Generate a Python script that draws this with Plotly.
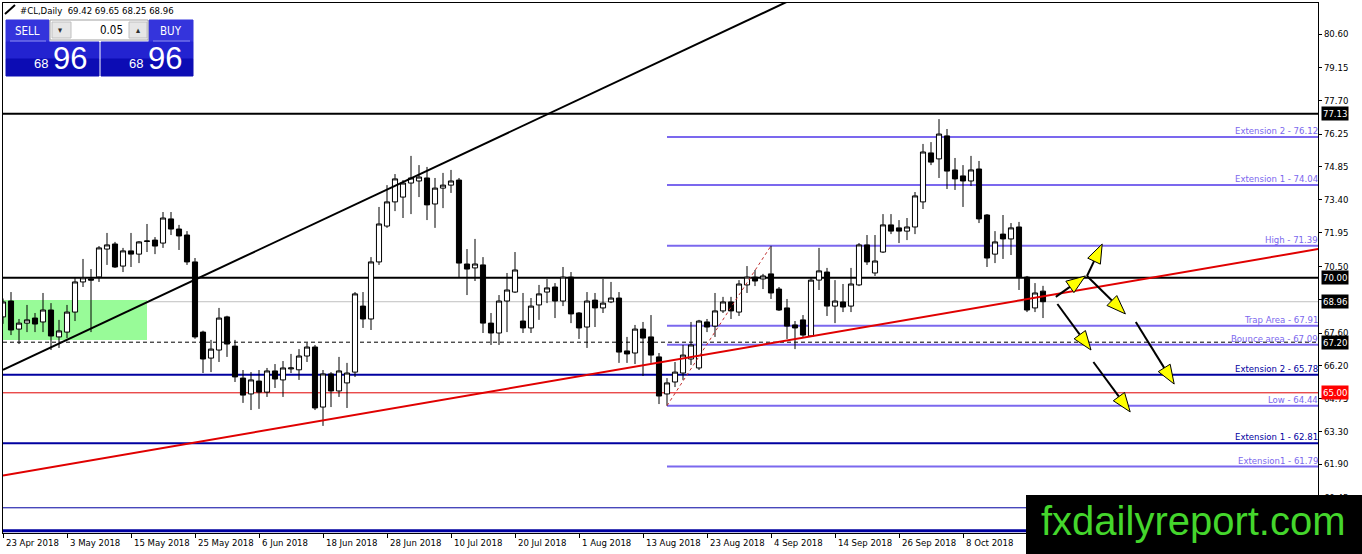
import math
import pandas as pd
import plotly.graph_objects as go

# barras diárias do #CL, de 23 Apr 2018 até 22 Oct 2018
dates = pd.bdate_range("2018-04-23", periods=131)

opens = [68.30, 68.99, 67.77, 68.03, 68.25, 68.08, 68.60, 67.43, 67.64, 68.51,
         69.82, 69.95, 70.04, 71.25, 71.47, 70.51, 71.17, 71.03, 71.58, 71.64,
         71.51, 72.56, 72.12, 71.86, 70.69, 67.64, 66.51, 66.86, 68.30, 67.03,
         65.64, 64.95, 65.51, 65.03, 65.95, 65.56, 66.04, 66.00, 66.60, 66.99,
         64.38, 65.82, 65.08, 65.43, 65.90, 68.77, 68.21, 70.69, 72.25, 73.30,
         73.51, 74.12, 74.21, 74.34, 73.21, 73.90, 74.03, 74.25, 70.60, 70.43,
         70.56, 68.03, 67.60, 68.99, 69.38, 68.12, 67.82, 68.82, 69.38, 69.60,
         68.99, 70.03, 68.47, 67.86, 69.03, 68.69, 68.95, 69.12, 66.82, 66.73,
         67.77, 67.43, 66.56, 64.95, 65.47, 65.86, 66.47, 66.08, 68.08, 67.90,
         68.56, 68.95, 68.51, 69.69, 70.03, 69.95, 70.17, 69.51, 68.69, 67.95,
         68.17, 67.47, 69.90, 70.25, 68.77, 68.95, 68.77, 69.69, 71.43, 70.21,
         71.12, 72.30, 72.17, 72.03, 72.21, 73.30, 75.43, 75.17, 76.17, 74.69,
         74.43, 74.21, 74.73, 72.73, 71.03, 71.90, 71.69, 72.21, 70.03, 68.69,
         69.42]
highs = [69.10, 69.38, 68.21, 68.82, 68.47, 69.34, 68.90, 68.17, 68.82, 70.00,
         70.82, 70.38, 71.38, 71.95, 71.56, 71.30, 71.95, 71.60, 72.34, 71.77,
         72.86, 72.86, 72.30, 72.03, 70.86, 67.70, 67.30, 68.69, 68.35, 67.30,
         65.99, 65.90, 65.99, 66.08, 66.25, 66.38, 66.69, 66.90, 67.17, 67.08,
         65.99, 65.90, 66.56, 66.30, 69.38, 69.38, 70.90, 73.08, 74.03, 74.51,
         74.25, 75.30, 74.90, 74.82, 74.34, 74.56, 74.69, 74.34, 71.25, 71.69,
         70.90, 68.47, 69.25, 70.21, 71.12, 69.34, 69.12, 69.69, 69.95, 69.77,
         70.47, 70.25, 68.51, 69.38, 69.34, 69.95, 69.82, 69.38, 67.43, 67.95,
         68.08, 68.38, 66.73, 65.64, 66.34, 67.08, 68.08, 68.17, 68.21, 69.34,
         69.17, 69.17, 69.90, 70.51, 70.34, 70.17, 71.39, 69.60, 69.08, 68.12,
         68.38, 69.99, 71.30, 70.43, 69.90, 69.73, 70.43, 71.51, 71.86, 71.86,
         72.77, 72.77, 72.51, 72.60, 73.73, 75.82, 75.90, 76.90, 76.47, 75.21,
         74.90, 75.30, 75.08, 72.77, 72.03, 72.73, 72.38, 72.43, 70.08, 69.77,
         69.65]
lows = [68.00, 67.51, 67.12, 67.64, 67.64, 67.64, 66.86, 66.95, 67.38, 68.12,
        69.60, 67.64, 69.82, 70.56, 70.43, 70.25, 70.47, 70.64, 71.12, 71.03,
        71.30, 71.86, 71.21, 70.56, 67.35, 65.86, 65.90, 66.34, 66.56, 65.47,
        64.56, 64.25, 64.30, 64.82, 65.21, 64.82, 65.86, 65.56, 66.34, 64.25,
        63.56, 64.38, 64.82, 64.34, 65.69, 67.82, 67.73, 70.56, 72.17, 72.90,
        72.60, 72.77, 73.51, 72.51, 72.17, 73.03, 73.69, 70.03, 69.25, 69.86,
        67.60, 67.08, 67.08, 67.64, 69.34, 67.60, 67.60, 68.17, 68.90, 68.25,
        68.77, 68.03, 67.34, 66.95, 67.86, 68.47, 68.90, 66.30, 66.30, 66.25,
        65.73, 66.30, 64.51, 64.44, 65.25, 65.56, 66.21, 65.99, 67.64, 67.43,
        68.47, 68.21, 68.34, 69.34, 69.64, 69.51, 69.08, 68.56, 67.34, 66.90,
        67.43, 67.43, 69.47, 68.34, 68.03, 68.51, 68.51, 69.64, 70.56, 70.08,
        71.08, 71.90, 71.51, 71.64, 71.90, 72.99, 74.90, 74.34, 73.86, 73.82,
        73.08, 73.99, 72.38, 70.47, 70.64, 70.82, 70.99, 69.47, 68.51, 68.51,
        68.25]
closes = [68.95, 67.73, 68.03, 68.17, 67.99, 68.60, 67.47, 67.69, 68.51, 69.82,
          70.00, 69.90, 71.30, 71.43, 70.47, 71.17, 71.03, 71.56, 71.60, 71.38,
          72.60, 72.12, 71.82, 70.69, 67.43, 66.47, 66.90, 68.25, 67.12, 65.69,
          64.90, 65.56, 65.03, 65.95, 65.60, 66.08, 66.08, 66.60, 66.99, 64.34,
          65.82, 65.08, 65.95, 65.86, 69.30, 68.21, 70.69, 72.34, 73.30, 74.30,
          74.12, 74.34, 74.38, 73.17, 73.90, 74.03, 74.21, 70.64, 70.38, 70.60,
          68.03, 67.60, 68.99, 69.47, 70.34, 67.82, 68.77, 69.30, 69.56, 68.99,
          70.03, 68.43, 67.82, 68.99, 68.69, 68.90, 69.12, 66.77, 66.69, 67.77,
          67.38, 66.64, 64.86, 65.43, 65.90, 66.64, 67.08, 68.12, 67.86, 68.56,
          68.95, 68.56, 69.73, 70.03, 69.86, 70.08, 69.34, 68.60, 67.90, 67.82,
          67.51, 69.90, 70.30, 68.77, 68.99, 68.73, 69.73, 71.43, 70.69, 70.73,
          72.30, 72.03, 72.03, 72.21, 73.56, 75.47, 75.03, 76.25, 74.64, 74.30,
          74.21, 74.69, 72.56, 70.86, 71.56, 71.69, 72.17, 70.03, 68.60, 69.34,
          68.96]

tick_labels = ["23 Apr 2018", "3 May 2018", "15 May 2018", "25 May 2018", "6 Jun 2018",
               "18 Jun 2018", "28 Jun 2018", "10 Jul 2018", "20 Jul 2018", "1 Aug 2018",
               "13 Aug 2018", "23 Aug 2018", "4 Sep 2018", "14 Sep 2018", "26 Sep 2018",
               "8 Oct 2018"]
price_ticks = [80.60, 79.15, 77.70, 76.25, 74.85, 73.40, 71.95, 70.50, 69.05,
               67.60, 66.20, 64.75, 63.30, 61.90, 60.45]

# níveis desenhados no gráfico
black_levels = [77.13, 70.00]
bid_level = 68.96
dash_level = 67.20
red_level = 65.00
navy_levels = [65.78, 62.81]
navy_names = ["Extension 2", "Extension 1"]
navy_thin = 60.00
navy_bottom = 59.00

fib_names = ["Extension 2", "Extension 1", "High", "Trap Area", "Bounce area", "Low", "Extension1"]
fib_levels = [76.12, 74.04, 71.39, 67.91, 67.09, 64.44, 61.79]
fib_start = 83
fib_diag_x = [83, 96]
fib_diag_y = [64.44, 71.39]

black_trend_x = [0, 98]
black_trend_y = [66.0, 82.0]
red_trend_x = [0, 164.4]
red_trend_y = [61.4, 71.25]

zone_x = [0, 18]
zone_y = [67.30, 69.03]

# setas amarelas (cauda -> ponta)
arrows = [((131.6, 69.17), (135.3, 70.08)),
          ((135.5, 70.08), (137.4, 71.47)),
          ((135.5, 70.08), (140.3, 68.43)),
          ((131.8, 68.86), (136.0, 66.86)),
          ((141.6, 68.08), (146.4, 65.38)),
          ((136.3, 66.34), (140.9, 64.17))]

box_levels = [77.13, 70.00, 68.96, 67.20]

# área do gráfico em pixels
L, R, T, B = 3, 1318, 3, 533
X_RANGE = [0, 164.375]
Y_RANGE = [58.904, 81.948]
FONT = "DejaVu Sans Condensed, Liberation Sans, sans-serif"
FIB_COLOR = "#7b68ee"
NAVY = "#0000a0"


def to_px(i, p):
    x = L + (i - X_RANGE[0]) / (X_RANGE[1] - X_RANGE[0]) * (R - L)
    y = B - (p - Y_RANGE[0]) / (Y_RANGE[1] - Y_RANGE[0]) * (B - T)
    return x, y


def to_data(x, y):
    i = X_RANGE[0] + (x - L) / (R - L) * (X_RANGE[1] - X_RANGE[0])
    p = Y_RANGE[0] + (B - y) / (B - T) * (Y_RANGE[1] - Y_RANGE[0])
    return i, p


def pp(x, y):
    # pixel -> paper
    return (x - L) / (R - L), (B - y) / (B - T)


pos = list(range(len(dates)))
tick_pos = [dates.get_loc(pd.to_datetime(t)) for t in tick_labels]

fig = go.Figure()

fig.add_trace(go.Candlestick(
    x=pos, open=opens, high=highs, low=lows, close=closes,
    increasing=dict(line=dict(color="black", width=1), fillcolor="white"),
    decreasing=dict(line=dict(color="black", width=1), fillcolor="black"),
    whiskerwidth=0, hoverinfo="skip",
))

fig.add_trace(go.Scatter(x=black_trend_x, y=black_trend_y, mode="lines",
                         line=dict(color="black", width=2), hoverinfo="skip"))
fig.add_trace(go.Scatter(x=red_trend_x, y=red_trend_y, mode="lines",
                         line=dict(color="#e00000", width=2), hoverinfo="skip"))
fig.add_trace(go.Scatter(x=fib_diag_x, y=fib_diag_y, mode="lines",
                         line=dict(color="#c03030", width=1, dash="dot"), hoverinfo="skip"))

shapes = []
annotations = []

# zona verde
shapes.append(dict(type="rect", xref="x", yref="y", x0=zone_x[0], x1=zone_x[1],
                   y0=zone_y[0], y1=zone_y[1], fillcolor="#98fb98", line_width=0, layer="below"))


def hline(y, color, width, dash="solid", x0=None):
    if x0 is None:
        shapes.append(dict(type="line", xref="paper", yref="y", x0=0, x1=1, y0=y, y1=y,
                           line=dict(color=color, width=width, dash=dash), layer="below"))
    else:
        shapes.append(dict(type="line", xref="x", yref="y", x0=x0, x1=X_RANGE[1], y0=y, y1=y,
                           line=dict(color=color, width=width, dash=dash), layer="below"))


hline(bid_level, "#c0c0c0", 1)
hline(dash_level, "black", 1, "4px,3px")
hline(red_level, "#e00000", 1)
for lv in navy_levels:
    hline(lv, NAVY, 2)
hline(navy_thin, NAVY, 1)
hline(navy_bottom, NAVY, 3)
for lv in black_levels:
    hline(lv, "black", 2)
for lv in fib_levels:
    hline(lv, FIB_COLOR, 2, x0=fib_start)

# rótulos das linhas
for name, lv in zip(fib_names, fib_levels):
    annotations.append(dict(xref="paper", yref="y", x=1, y=lv, xanchor="right", yanchor="bottom",
                            xshift=2, yshift=-1, showarrow=False, text=f"{name} - {lv:.2f}",
                            font=dict(family=FONT, size=9.5, color=FIB_COLOR)))
for name, lv in zip(navy_names, navy_levels):
    annotations.append(dict(xref="paper", yref="y", x=1, y=lv, xanchor="right", yanchor="bottom",
                            xshift=2, yshift=-1, showarrow=False, text=f"{name} - {lv:.2f}",
                            font=dict(family=FONT, size=9.5, color=NAVY)))

# caixas de preço no eixo
for lv in box_levels:
    annotations.append(dict(xref="paper", yref="y", x=1, y=lv, xanchor="left", yanchor="middle",
                            xshift=3, showarrow=False, text=f"{lv:.2f}", bgcolor="black",
                            borderpad=1, font=dict(family=FONT, size=9.5, color="white")))
annotations.append(dict(xref="paper", yref="y", x=1, y=red_level, xanchor="left", yanchor="middle",
                        xshift=3, showarrow=False, text=f"{red_level:.2f}", bgcolor="#ff0000",
                        borderpad=1, font=dict(family=FONT, size=9.5, color="white")))

# datas
for tp, lab in zip(tick_pos, tick_labels):
    annotations.append(dict(xref="x", yref="paper", x=tp, y=0, xanchor="left", yanchor="top",
                            xshift=1, yshift=-2, showarrow=False, text=lab,
                            font=dict(family=FONT, size=9.5, color="black")))

# setas
for tail, tip in arrows:
    x0, y0 = to_px(*tail)
    x1, y1 = to_px(*tip)
    d = math.hypot(x1 - x0, y1 - y0)
    ux, uy = (x1 - x0) / d, (y1 - y0) / d
    bx, by = x1 - ux * 19, y1 - uy * 19
    nx, ny = -uy, ux
    bi, bp = to_data(bx, by)
    shapes.append(dict(type="line", xref="x", yref="y", x0=tail[0], y0=tail[1], x1=bi, y1=bp,
                       line=dict(color="black", width=2)))
    pts = [(x1, y1), (bx + nx * 7, by + ny * 7), (bx - nx * 7, by - ny * 7)]
    dp = [to_data(px, py) for px, py in pts]
    path = "M {} {} L {} {} L {} {} Z".format(*[v for q in dp for v in q])
    shapes.append(dict(type="path", xref="x", yref="y", path=path, fillcolor="#ffff00",
                       line=dict(color="black", width=1)))


# painel de negociação
def prect(x0, y0, x1, y1, fill, line=None):
    a, b = pp(x0, y1)
    c, d = pp(x1, y0)
    shapes.append(dict(type="rect", xref="paper", yref="paper", x0=a, y0=b, x1=c, y1=d,
                       fillcolor=fill, line=dict(color=line or fill, width=1), layer="above"))


def ptext(x, y, text, size, color, anchor="center", family=FONT):
    a, b = pp(x, y)
    annotations.append(dict(xref="paper", yref="paper", x=a, y=b, xanchor=anchor, yanchor="middle",
                            showarrow=False, text=text, font=dict(family=family, size=size, color=color)))


prect(6, 20, 49, 42, "#3434dc")
prect(149, 20, 193, 42, "#3434dc")
prect(50, 20, 148, 40, "white", "#a0a0a0")
prect(52, 22, 71, 38, "#e6e6e6", "#c0c0c0")
prect(129, 22, 147, 38, "#e6e6e6", "#c0c0c0")
prect(6, 42, 99, 59, "#2323d0")
prect(6, 59, 99, 76, "#0c0cb4")
prect(101, 42, 193, 59, "#2323d0")
prect(101, 59, 193, 76, "#0c0cb4")
for xa, xb in [(10, 46), (153, 190)]:
    a, b = pp(xa, 41)
    c, _ = pp(xb, 41)
    shapes.append(dict(type="line", xref="paper", yref="paper", x0=a, x1=c, y0=b, y1=b,
                       line=dict(color="#8c8cf0", width=1), layer="above"))
ptext(27, 31, "SELL", 11.5, "white")
ptext(171, 31, "BUY", 11.5, "white")
ptext(125, 30, "0.05", 11.5, "black", anchor="right")
ptext(61, 30, "▾", 9, "#303030")
ptext(138, 30, "▴", 9, "#303030")
ptext(41, 64, "68", 13, "white", family="Liberation Sans")
ptext(70, 59, "96", 31, "white", family="Liberation Sans")
ptext(136, 64, "68", 13, "white", family="Liberation Sans")
ptext(165, 59, "96", 31, "white", family="Liberation Sans")

# título
a, b = pp(5, 14)
c, d = pp(15, 5)
shapes.append(dict(type="line", xref="paper", yref="paper", x0=a, y0=b, x1=c, y1=d,
                   line=dict(color="black", width=2), layer="above"))
ptext(18, 11, "#CL,Daily  69.42 69.65 68.25 68.96", 9.5, "black", anchor="left")

# marca d'água
a, b = pp(1026, 554)
c, d = pp(1362, 495)
shapes.append(dict(type="rect", xref="paper", yref="paper", x0=a, y0=b, x1=c, y1=d,
                   fillcolor="black", line_width=0, layer="above"))
ptext(1193, 521, "fxdailyreport.com", 40, "#44d62c", family="Liberation Sans")

fig.update_layout(
    width=1362, height=554,
    margin=dict(l=L, r=1362 - R, t=T, b=554 - B, autoexpand=False),
    paper_bgcolor="white", plot_bgcolor="white",
    showlegend=False, hovermode=False,
    boxgap=0.2, boxgroupgap=0.2,
    shapes=shapes, annotations=annotations,
    xaxis=dict(range=X_RANGE, rangeslider=dict(visible=False), showgrid=False, zeroline=False,
               showline=True, mirror=True, linecolor="black", linewidth=1,
               tickvals=tick_pos, ticks="outside", ticklen=4, tickcolor="black",
               showticklabels=False),
    yaxis=dict(range=Y_RANGE, side="right", showgrid=False, zeroline=False,
               showline=True, mirror=True, linecolor="black", linewidth=1,
               tickvals=price_ticks, ticktext=[f"{v:.2f}" for v in price_ticks],
               ticks="outside", ticklen=3, tickcolor="black",
               tickfont=dict(family=FONT, size=9.5, color="black")),
)

fig.write_html("out.html", config={"displayModeBar": False},
               post_script="document.body.style.margin='0';")
